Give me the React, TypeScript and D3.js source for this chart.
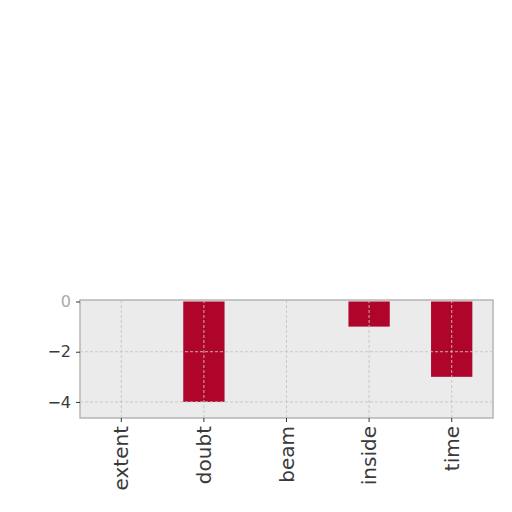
import * as d3 from 'd3';
import React, { useEffect } from 'react';

const categories = ['extent', 'doubt', 'beam', 'inside', 'time'];
const values = [0, -4, 0, -1, -3];
const yTicks = [0, -2, -4];

export default function App() {
  const ref = React.useRef<SVGSVGElement>(null);

  useEffect(() => {
    if (!ref.current) return;
    const svg = d3.select(ref.current);
    svg.selectAll('*').remove();

    const left = 80;
    const right = 493;
    const top = 300;
    const bottom = 418;

    const x = d3.scaleBand().domain(categories).range([left, right]).padding(0);
    const y = d3.scaleLinear().domain([-4.64, 0.06]).range([bottom, top]);
    const barW = x.bandwidth() * 0.5;

    // plot background + frame
    svg
      .append('rect')
      .attr('x', left)
      .attr('y', top)
      .attr('width', right - left)
      .attr('height', bottom - top)
      .attr('fill', '#ebebeb')
      .attr('stroke', '#b5b5b5')
      .attr('stroke-width', 1.5);

    // bars
    svg
      .selectAll('.bar')
      .data(categories)
      .enter()
      .append('rect')
      .attr('class', 'bar')
      .attr('x', d => (x(d) as number) + (x.bandwidth() - barW) / 2)
      .attr('y', (d, i) => y(Math.max(0, values[i])))
      .attr('width', barW)
      .attr('height', (d, i) => Math.abs(y(values[i]) - y(0)))
      .attr('fill', '#b0052a');

    // grid (drawn over bars)
    const grid = svg.append('g');
    grid
      .selectAll('.vg')
      .data(categories)
      .enter()
      .append('line')
      .attr('x1', d => (x(d) as number) + x.bandwidth() / 2)
      .attr('x2', d => (x(d) as number) + x.bandwidth() / 2)
      .attr('y1', top)
      .attr('y2', bottom)
      .attr('stroke', '#c4c4c4')
      .attr('stroke-opacity', 0.9)
      .attr('stroke-dasharray', '3,2');
    grid
      .selectAll('.hg')
      .data(yTicks.filter(t => t !== 0))
      .enter()
      .append('line')
      .attr('x1', left)
      .attr('x2', right)
      .attr('y1', d => y(d))
      .attr('y2', d => y(d))
      .attr('stroke', '#c4c4c4')
      .attr('stroke-opacity', 0.9)
      .attr('stroke-dasharray', '3,2');

    // x axis
    const xAxis = svg
      .append('g')
      .attr('transform', `translate(0,${bottom})`)
      .call(d3.axisBottom(x).tickSize(4).tickPadding(6));
    xAxis.select('.domain').remove();
    xAxis.selectAll('line').attr('stroke', '#333');
    xAxis
      .selectAll('text')
      .attr('font-family', 'DejaVu Sans')
      .attr('font-size', 20)
      .attr('fill', '#3a3a3a')
      .attr('text-anchor', 'end')
      .attr('transform', 'rotate(-90)')
      .attr('x', -8)
      .attr('y', 0)
      .attr('dy', '0.35em');

    // y axis
    const yAxis = svg
      .append('g')
      .attr('transform', `translate(${left},0)`)
      .call(d3.axisLeft(y).tickValues(yTicks).tickSize(4).tickPadding(5).tickFormat(d3.format('d')));
    yAxis.select('.domain').remove();
    yAxis.selectAll('line').attr('stroke', '#333');
    yAxis
      .selectAll('text')
      .attr('font-family', 'DejaVu Sans')
      .attr('font-size', 16)
      .attr('fill', (d: any) => (d === 0 ? '#aaa' : '#3a3a3a'));
  }, []);

  return (
    <div style={{ position: 'absolute', left: 0, top: 0 }}>
      <svg ref={ref} width={512} height={512} style={{ background: '#fff', display: 'block' }} />
    </div>
  );
}
